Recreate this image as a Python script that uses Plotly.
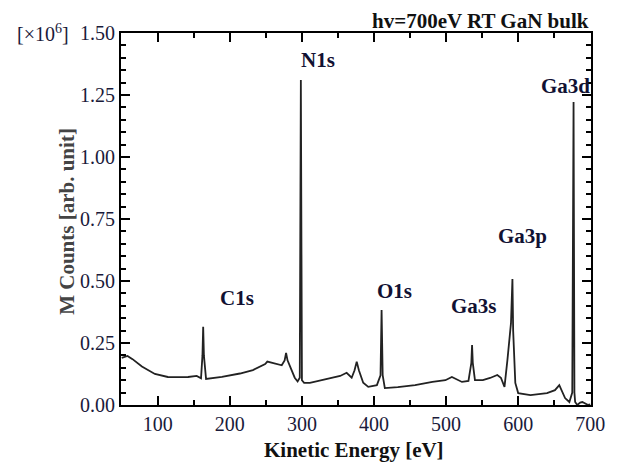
import plotly.graph_objects as go

# Spectrum (kinetic energy in eV, counts in units of 1e6)
energy = [50, 58, 65, 78, 96, 114, 130, 142, 154, 160, 162, 163, 164, 167, 189,
          214, 232, 249, 252, 260, 272, 276, 278, 280, 283, 290, 294, 297, 298.5,
          300, 303, 311, 335, 353, 362, 369, 373, 376, 379, 385, 392, 404, 409,
          410.5, 412, 415, 433, 457, 481, 499, 508, 522, 531, 535, 536, 537, 540,
          551, 561, 571, 576, 581, 585, 588, 590, 592, 593, 596, 600, 617, 640,
          651, 657, 665, 671, 675, 676.8, 678, 679, 682, 686, 689, 693, 697, 700]
counts = [0.19, 0.198, 0.185, 0.155, 0.125, 0.113, 0.112, 0.113, 0.117, 0.108,
          0.2, 0.315, 0.2, 0.105, 0.113,
          0.127, 0.141, 0.165, 0.175, 0.17, 0.16, 0.18, 0.21, 0.18, 0.16, 0.11,
          0.095, 0.11, 1.31,
          0.1, 0.089, 0.089, 0.105, 0.117, 0.13, 0.11, 0.14, 0.175, 0.14, 0.09,
          0.073, 0.08, 0.12,
          0.383, 0.12, 0.068, 0.072, 0.08, 0.093, 0.1, 0.113, 0.093, 0.097, 0.17,
          0.242, 0.17, 0.1,
          0.1, 0.109, 0.121, 0.11, 0.073, 0.18, 0.29, 0.33, 0.508, 0.3, 0.089,
          0.048, 0.04, 0.048,
          0.06, 0.08, 0.028, 0.012, 0.05, 1.222, 0.05, 0.012, 0.0, 0.01, 0.012,
          0.005, 0.0, 0.002]

peak_names = ["C1s", "N1s", "O1s", "Ga3s", "Ga3p", "Ga3d"]
peak_label_x = [210, 322, 429, 539, 606, 665]
peak_label_y = [0.43, 1.39, 0.46, 0.40, 0.68, 1.285]

x_ticks = [100, 200, 300, 400, 500, 600, 700]
y_ticks = [0.0, 0.25, 0.5, 0.75, 1.0, 1.25, 1.5]
y_tick_text = ["0.00", "0.25", "0.50", "0.75", "1.00", "1.25", "1.50"]

SERIF = "Liberation Serif, Times New Roman, serif"
TICKCOL = "#1a1a3a"

fig = go.Figure()
fig.add_trace(go.Scatter(x=energy, y=counts, mode="lines",
                         line=dict(color="#222222", width=1.8),
                         showlegend=False, hoverinfo="skip"))

for name, px, py in zip(peak_names, peak_label_x, peak_label_y):
    fig.add_annotation(x=px, y=py, xref="x", yref="y", text="<b>%s</b>" % name,
                       showarrow=False, xanchor="center", yanchor="middle",
                       font=dict(family=SERIF, size=21, color="#111133"))

fig.add_annotation(x=1.0, y=1.032, xref="paper", yref="paper",
                   text="<b>hv=700eV RT GaN bulk</b>", showarrow=False,
                   xanchor="right", yanchor="middle",
                   font=dict(family=SERIF, size=21, color="#111111"))
fig.add_annotation(x=-0.166, y=1.0, xref="paper", yref="paper",
                   text="[×10<sup>6</sup>]", showarrow=False,
                   xanchor="center", yanchor="middle",
                   font=dict(family=SERIF, size=20, color=TICKCOL))
fig.add_annotation(x=-0.115, y=0.495, xref="paper", yref="paper",
                   text="<b>M Counts [arb. unit]</b>", showarrow=False,
                   textangle=-90, xanchor="center", yanchor="middle",
                   font=dict(family=SERIF, size=21, color="#444444"))
fig.add_annotation(x=0.496, y=-0.122, xref="paper", yref="paper",
                   text="<b>Kinetic Energy [eV]</b>", showarrow=False,
                   xanchor="center", yanchor="middle",
                   font=dict(family=SERIF, size=21, color="#111111"))

fig.update_xaxes(range=[49, 701], showline=True, linecolor="black", linewidth=2,
                 mirror="allticks", ticks="inside", ticklen=9, tickwidth=2,
                 tickcolor="black", tickvals=x_ticks,
                 minor=dict(ticks="inside", ticklen=5, tickwidth=1.5,
                            tickcolor="black", dtick=50, tick0=0),
                 showgrid=False, zeroline=False, ticklabelstandoff=0,
                 tickfont=dict(family=SERIF, size=20, color=TICKCOL))
fig.update_yaxes(range=[0, 1.5], showline=True, linecolor="black", linewidth=2,
                 mirror="allticks", ticks="inside", ticklen=9, tickwidth=2,
                 tickcolor="black", tickvals=y_ticks, ticktext=y_tick_text,
                 minor=dict(ticks="inside", ticklen=5, tickwidth=1.5,
                            tickcolor="black", dtick=0.05, tick0=0),
                 showgrid=False, zeroline=False,
                 tickfont=dict(family=SERIF, size=20, color=TICKCOL))

# page body has an 8px margin, so the figure is made 8px smaller and margins shifted
fig.update_layout(width=613, height=456,
                  margin=dict(l=113, r=30, t=25, b=59),
                  plot_bgcolor="white", paper_bgcolor="white")

fig.write_html("out.html")
